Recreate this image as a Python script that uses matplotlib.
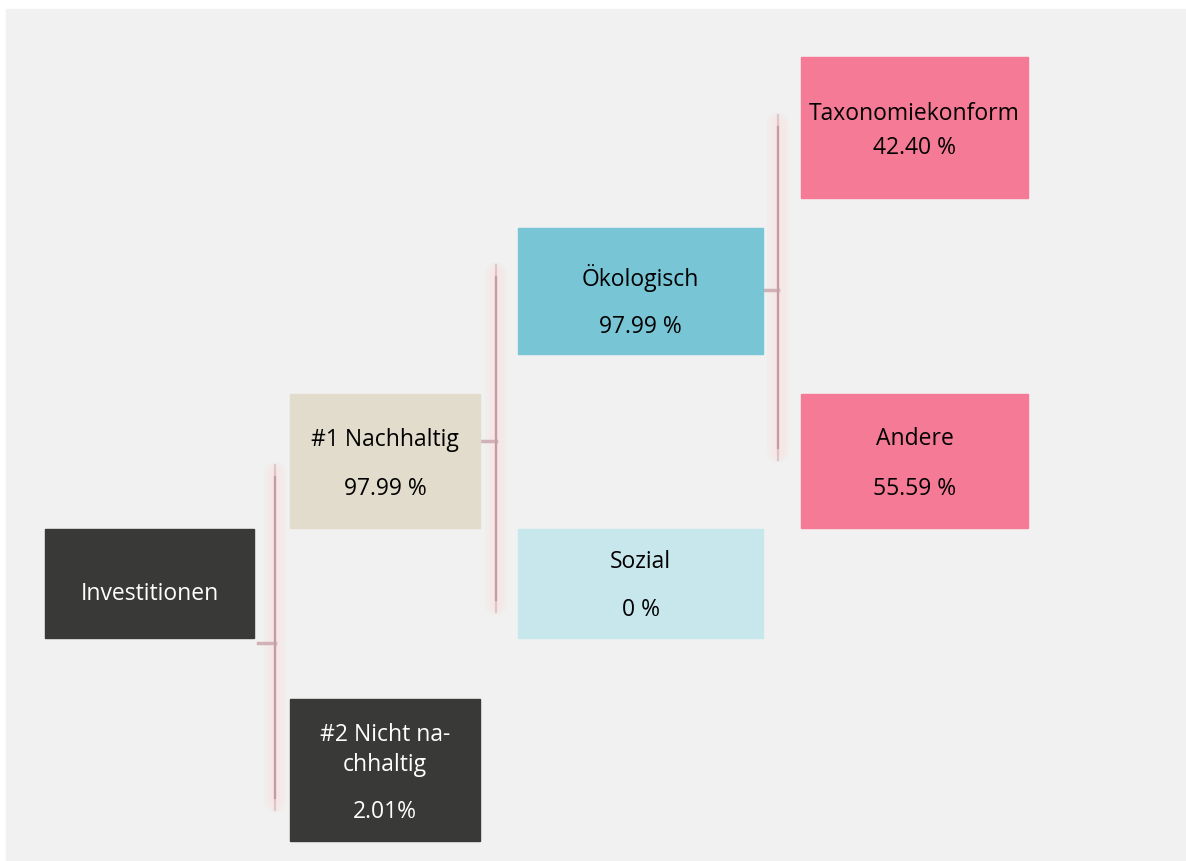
import matplotlib.pyplot as plt
from matplotlib.patches import Rectangle

plt.rcParams['font.family'] = ['Open Sans', 'DejaVu Sans']

# box contents
labels = ['Investitionen', '#1 Nachhaltig', '#2 Nicht na-\nchhaltig',
          'Ökologisch', 'Sozial', 'Taxonomiekonform', 'Andere']
values = ['', '97.99 %', '2.01%', '97.99 %', '0 %', '42.40 %', '55.59 %']
colors = ['#393a37', '#e1dccb', '#393a37', '#78c5d6', '#c8e7ed',
          '#f47a96', '#f47a96']
text_colors = ['white', 'black', 'white', 'black', 'black', 'black', 'black']

# layout in pixels (x0, y0, x1, y1), y going down
boxes = [(45, 529, 254, 638), (290, 394, 480, 528), (290, 699, 480, 841),
         (518, 228, 763, 354), (518, 529, 763, 638), (801, 57, 1028, 198),
         (801, 394, 1028, 528)]
label_y = [594, 440, 750, 278, 562, 114, 439]
value_y = [None, 489, 812, 327, 610, 148, 489]

# connectors: x of vertical, y top, y bottom, x start of tick, y tick
connectors = [(275, 465, 810, 258, 643),
              (496, 265, 612, 480, 441),
              (778, 115, 460, 764, 290)]

fig = plt.figure(figsize=(11.86, 8.61), dpi=100)
ax = fig.add_axes([0, 0, 1, 1])
ax.set_xlim(0, 1186)
ax.set_ylim(861, 0)
ax.axis('off')

ax.add_patch(Rectangle((6, 9), 1180, 852, color='#f1f1f1', zorder=0))

for x, y0, y1, xt, yt in connectors:
    # soft glow around the line
    for lw, a in [(16, 0.25), (11, 0.35), (6, 0.5)]:
        ax.plot([x, x], [y0 + 8, y1 - 8], color='#f8e4e2', lw=lw, alpha=a,
                solid_capstyle='round', zorder=1)
    ax.plot([x, x], [y0, y1], color='#c9a3ab', lw=1.6, alpha=0.5, zorder=2)
    ax.plot([x, x], [y0 + 12, y1 - 12], color='#c49aa3', lw=1.6, zorder=2)
    ax.plot([xt, x], [yt, yt], color='#c9a3ab', lw=2.5, alpha=0.8, zorder=2)

for i, (x0, y0, x1, y1) in enumerate(boxes):
    ax.add_patch(Rectangle((x0, y0), x1 - x0, y1 - y0, color=colors[i], zorder=3))
    cx = (x0 + x1) / 2
    ax.text(cx, label_y[i], labels[i], color=text_colors[i], fontsize=16.5,
            ha='center', va='center', linespacing=1.35, zorder=4)
    if value_y[i] is not None:
        ax.text(cx, value_y[i], values[i], color=text_colors[i], fontsize=16.5,
                ha='center', va='center', zorder=4)

fig.savefig('out.png', dpi=100)
